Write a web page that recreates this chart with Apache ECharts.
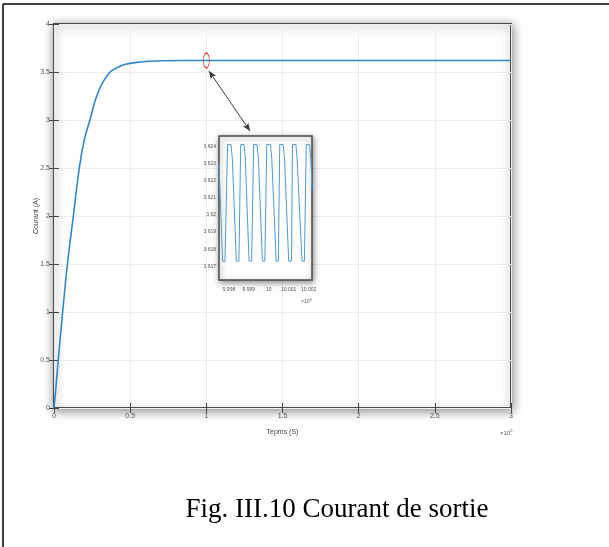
<!DOCTYPE html>
<html>
<head>
<meta charset="utf-8">
<script src="https://cdn.jsdelivr.net/npm/echarts@6/dist/echarts.min.js"></script>
<style>
  html, body { margin: 0; padding: 0; background: #fff; }
  #chart { width: 609px; height: 547px; }
</style>
</head>
<body>
<div id="chart"></div>
<script>
// main response, time in units of 1e5
var mainTime = [0, 0.01, 0.028, 0.057, 0.088, 0.127, 0.166, 0.2, 0.236, 0.27, 0.31, 0.368, 0.42, 0.47, 0.52, 0.6, 0.7, 0.85, 1.0, 1.5, 2.0, 2.5, 3.0];
var mainCurrent = [0, 0.17, 0.5, 1.0, 1.5, 2.0, 2.5, 2.8, 3.0, 3.2, 3.36, 3.5, 3.55, 3.58, 3.595, 3.61, 3.617, 3.62, 3.62, 3.62, 3.62, 3.62, 3.62];

// zoomed ripple, time in units of 1e4
var zoomTime = [9.99750, 9.99768, 9.99780, 9.99793, 9.99810, 9.99817, 9.99837, 9.99850, 9.99859, 9.99876, 9.99882,
    9.99901, 9.99914, 9.99924, 9.99941, 9.99948, 9.99968, 9.99980, 9.99990, 10.00008, 10.00015,
    10.00037, 10.00048, 10.00055, 10.00072, 10.00079, 10.00100, 10.00114, 10.00119, 10.00136, 10.00142,
    10.00167, 10.00179, 10.00188, 10.00204, 10.00211, 10.00217];
var zoomCurrent = [3.6230, 3.6173, 3.6173, 3.6241, 3.6241, 3.6233, 3.6173, 3.6173, 3.6241, 3.6241, 3.6233,
    3.6173, 3.6173, 3.6241, 3.6241, 3.6233, 3.6173, 3.6173, 3.6241, 3.6241, 3.6233,
    3.6173, 3.6173, 3.6241, 3.6241, 3.6233, 3.6173, 3.6173, 3.6241, 3.6241, 3.6233,
    3.6173, 3.6173, 3.6241, 3.6241, 3.6233, 3.6215];
var zoomXTicks = [9.998, 9.999, 10, 10.001, 10.002];
var zoomYTicks = [3.617, 3.618, 3.619, 3.62, 3.621, 3.622, 3.623, 3.624];

function zip(a, b) {
    var out = [];
    for (var i = 0; i < a.length; i++) out.push([a[i], b[i]]);
    return out;
}
function trim3(v) {
    return String(parseFloat(v.toFixed(3)));
}

var labelFont = 'Liberation Sans';
var gridShadow = {
    show: true,
    backgroundColor: '#fff',
    borderColor: '#4a4a4a',
    borderWidth: 2,
    shadowBlur: 10,
    shadowColor: 'rgba(0,0,0,0.45)',
    shadowOffsetX: 1,
    shadowOffsetY: 2
};

var chart = echarts.init(document.getElementById('chart'));

option = {
    animation: false,
    backgroundColor: '#fff',
    grid: [
        Object.assign({ left: 54, right: 98, top: 24, bottom: 139 }, gridShadow),
        Object.assign({ left: 219, right: 297, top: 136, bottom: 267, z: 5 }, gridShadow, { borderWidth: 1.5, shadowBlur: 6 })
    ],
    xAxis: [
        {
            gridIndex: 0, type: 'value', min: 0, max: 3, interval: 0.5,
            name: 'Tepms (S)', nameLocation: 'middle', nameGap: 21,
            nameTextStyle: { fontFamily: labelFont, fontSize: 7, color: '#444' },
            axisLine: { show: false },
            axisTick: { inside: true, length: 5, lineStyle: { color: '#444', width: 1 } },
            axisLabel: { fontFamily: labelFont, fontSize: 7, color: '#555', margin: 5 },
            splitLine: { lineStyle: { color: '#ececec', width: 1 } }
        },
        {
            gridIndex: 0, type: 'value', min: 0, max: 3, interval: 0.5, position: 'top',
            axisLine: { show: false },
            axisTick: { inside: true, length: 5, lineStyle: { color: '#444', width: 1 } },
            axisLabel: { show: false }, splitLine: { show: false }
        },
        {
            gridIndex: 1, type: 'value', min: 9.9975, max: 10.00217,
            axisLine: { show: false },
            axisTick: { inside: true, length: 3, customValues: zoomXTicks, lineStyle: { color: '#444' } },
            axisLabel: { fontFamily: labelFont, fontSize: 5, color: '#555', margin: 7,
                customValues: zoomXTicks, formatter: trim3 },
            splitLine: { lineStyle: { color: '#ececec' } }
        },
        {
            gridIndex: 1, type: 'value', min: 9.9975, max: 10.00217, position: 'top',
            axisLine: { show: false },
            axisTick: { inside: true, length: 3, customValues: zoomXTicks, lineStyle: { color: '#444' } },
            axisLabel: { show: false }, splitLine: { show: false }
        }
    ],
    yAxis: [
        {
            gridIndex: 0, type: 'value', min: 0, max: 4, interval: 0.5,
            name: 'Courant (A)', nameLocation: 'middle', nameGap: 14, nameRotate: 90,
            nameMoveOverlap: false,
            nameTextStyle: { fontFamily: labelFont, fontSize: 7, color: '#444' },
            axisLine: { show: false },
            axisTick: { inside: true, length: 5, lineStyle: { color: '#444', width: 1 } },
            axisLabel: { fontFamily: labelFont, fontSize: 7, color: '#555', margin: 4 },
            splitLine: { lineStyle: { color: '#ececec', width: 1 } }
        },
        {
            gridIndex: 0, type: 'value', min: 0, max: 4, interval: 0.5, position: 'right',
            axisLine: { show: false },
            axisTick: { inside: true, length: 5, lineStyle: { color: '#444', width: 1 } },
            axisLabel: { show: false }, splitLine: { show: false }
        },
        {
            gridIndex: 1, type: 'value', min: 3.6162, max: 3.6246,
            axisLine: { show: false },
            axisTick: { inside: true, length: 3, customValues: zoomYTicks, lineStyle: { color: '#444' } },
            axisLabel: { fontFamily: labelFont, fontSize: 5, color: '#555', margin: 3,
                customValues: zoomYTicks, formatter: trim3 },
            splitLine: { lineStyle: { color: '#ececec' } }
        }
    ],
    series: [
        {
            type: 'line', xAxisIndex: 0, yAxisIndex: 0,
            data: zip(mainTime, mainCurrent),
            smooth: 0.3, symbol: 'none',
            lineStyle: { color: '#2f86c8', width: 1.6 },
            markPoint: {
                symbol: 'circle', symbolSize: [6, 15], silent: true,
                itemStyle: { color: 'rgba(0,0,0,0)', borderColor: '#e0303a', borderWidth: 1 },
                label: { show: false },
                data: [{ coord: [1, 3.62] }]
            },
            markLine: {
                silent: true, symbol: ['arrow', 'arrow'], symbolSize: [5, 8],
                label: { show: false },
                lineStyle: { color: '#3a3a3a', width: 1, type: 'solid' },
                data: [[{ x: 209, y: 71 }, { x: 250, y: 131 }]]
            }
        },
        {
            type: 'line', xAxisIndex: 2, yAxisIndex: 2, z: 6,
            data: zip(zoomTime, zoomCurrent),
            symbol: 'none',
            lineStyle: { color: '#4f9ad6', width: 1 }
        }
    ],
    graphic: [
        { type: 'line', shape: { x1: 3, y1: 4, x2: 609, y2: 4 }, style: { stroke: '#000', lineWidth: 1.5 } },
        { type: 'line', shape: { x1: 3, y1: 4, x2: 3, y2: 547 }, style: { stroke: '#000', lineWidth: 1.5 } },
        {
            type: 'text', left: 500, top: 429,
            style: { text: '\u00d710{s|5}', fontFamily: labelFont, fontSize: 6, fill: '#555',
                rich: { s: { fontSize: 4, verticalAlign: 'top', padding: [0, 0, 4, 0] } } }
        },
        {
            type: 'text', left: 301, top: 298, z: 10,
            style: { text: '\u00d710{s|4}', fontFamily: labelFont, fontSize: 5, fill: '#555',
                rich: { s: { fontSize: 4, verticalAlign: 'top', padding: [0, 0, 3, 0] } } }
        },
        {
            type: 'text', x: 337, y: 510,
            style: { text: 'Fig. III.10 Courant de sortie', fontFamily: 'Liberation Serif', fontSize: 27,
                fill: '#000', align: 'center', verticalAlign: 'middle' }
        }
    ]
};

chart.setOption(option);
</script>
</body>
</html>
